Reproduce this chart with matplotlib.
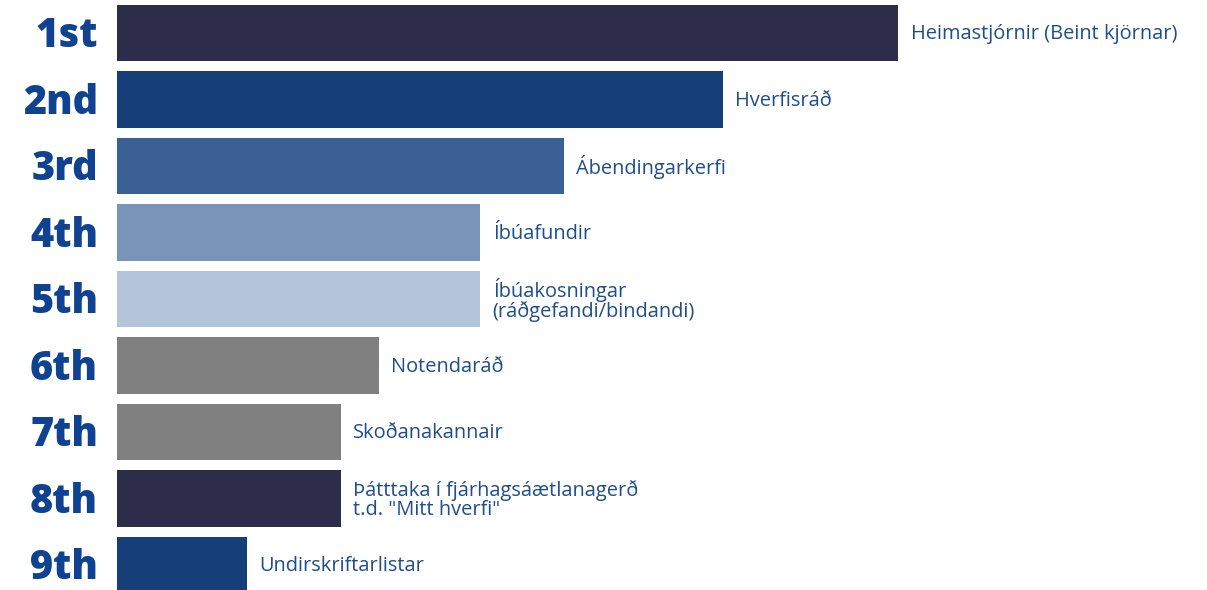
import matplotlib
matplotlib.use("Agg")
import matplotlib.pyplot as plt

ranks = ["1st", "2nd", "3rd", "4th", "5th", "6th", "7th", "8th", "9th"]
labels = [
    "Heimastjórnir (Beint kjörnar)",
    "Hverfisráð",
    "Ábendingarkerfi",
    "Íbúafundir",
    "Íbúakosningar\n(ráðgefandi/bindandi)",
    "Notendaráð",
    "Skoðanakannair",
    "Þátttaka í fjárhagsáætlanagerð\nt.d. \"Mitt hverfi\"",
    "Undirskriftarlistar",
]
scores = [60, 46.5, 34.3, 27.9, 27.9, 20.1, 17.2, 17.2, 10]
colors = ["#2d2d4b", "#163f7a", "#3a6096", "#7a93b8", "#b4c4db",
          "#808080", "#808080", "#2d2d4b", "#163f7a"]

plt.rcParams['font.family'] = ['Open Sans', 'DejaVu Sans']

fig = plt.figure(figsize=(12.07, 5.90), dpi=100)
ax = fig.add_axes([117 / 1207, 0, 1 - 117 / 1207, 1])

pos = list(range(len(ranks)))
ax.barh(pos, scores, height=0.85, color=colors)
ax.set_xlim(0, 83.7)
ax.set_ylim(8.376, -0.496)

for p, s, lab, r in zip(pos, scores, labels, ranks):
    ax.text(s + 0.95, p + 0.02, lab, va="center", ha="left", fontsize=14.4,
            color="#1f4e8c", linespacing=0.95)
    ax.text(-1.45, p + 0.06, r, va="center", ha="right", fontsize=28.5,
            fontweight="heavy", color="#0f4291")

ax.axis("off")
fig.savefig("out.png", dpi=100)
